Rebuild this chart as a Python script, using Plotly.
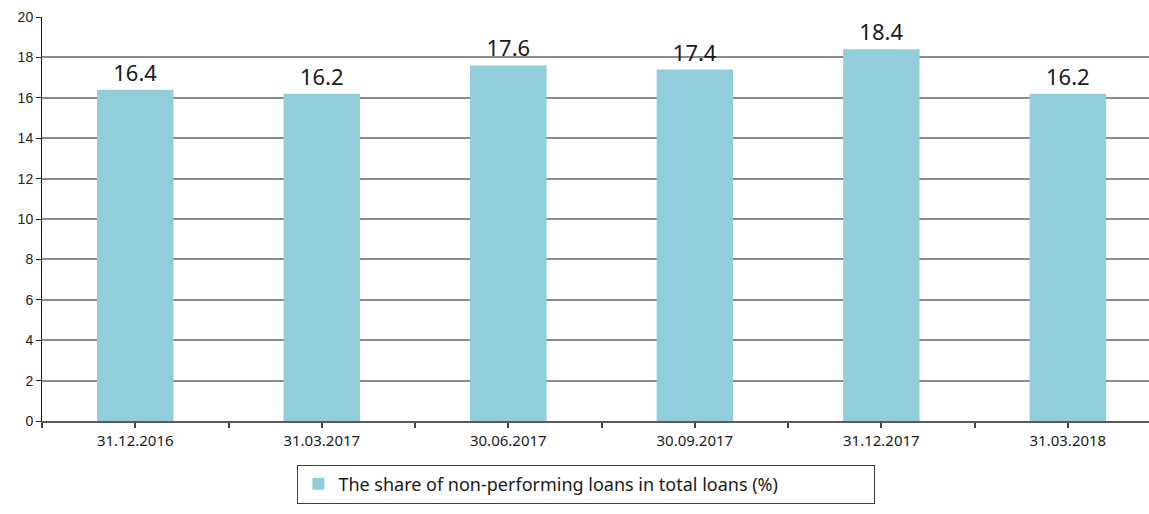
import plotly.graph_objects as go

categories = ["31.12.2016", "31.03.2017", "30.06.2017", "30.09.2017", "31.12.2017", "31.03.2018"]
npl_share = [16.4, 16.2, 17.6, 17.4, 18.4, 16.2]
y_ticks = [0, 2, 4, 6, 8, 10, 12, 14, 16, 18, 20]
series_name = "The share of non-performing loans in total loans (%)"

positions = list(range(len(categories)))
# ticks at category centres and at boundaries between categories
tick_vals = []
tick_text = []
for i, c in enumerate(categories):
    tick_vals += [i - 0.5, i]
    tick_text += ["", c]
tick_vals.append(len(categories) - 0.5)
tick_text.append("")

fig = go.Figure()
fig.add_trace(go.Bar(
    x=positions,
    y=npl_share,
    name=series_name,
    width=0.41,
    marker=dict(color="#92CDDC", line=dict(width=0)),
    text=[f"{v:.1f}" for v in npl_share],
    textposition="outside",
    textfont=dict(family="Noto Sans", size=22, color="#1a1a1a"),
    cliponaxis=False,
    showlegend=True,
))

fig.update_layout(
    width=1149, height=514,
    margin=dict(l=41.5, r=0, t=17, b=93),
    paper_bgcolor="white",
    plot_bgcolor="white",
    bargap=0.5,
    showlegend=True,
    legend=dict(
        x=0.2307, y=-0.108, xanchor="left", yanchor="top",
        orientation="h",
        entrywidth=531,
        bgcolor="white",
        bordercolor="#404040", borderwidth=1,
        font=dict(family="Noto Sans", size=18, color="#1a1a1a"),
    ),
    xaxis=dict(
        range=[-0.5, 5.435],
        tickmode="array",
        tickvals=tick_vals,
        ticktext=tick_text,
        ticks="outside",
        ticklen=5,
        tickwidth=1.5,
        tickcolor="#404040",
        showline=True,
        linecolor="#595959",
        linewidth=2,
        showgrid=False,
        zeroline=False,
        tickfont=dict(family="Noto Sans", size=15, color="#1a1a1a"),
    ),
    yaxis=dict(
        range=[0, 20],
        tickmode="array",
        tickvals=y_ticks,
        ticks="outside",
        ticklen=5,
        tickcolor="#222222",
        showline=True,
        linecolor="#111111",
        linewidth=1,
        showgrid=True,
        gridcolor="#8c8c8c",
        gridwidth=1.5,
        zeroline=False,
        tickfont=dict(family="Liberation Sans", size=14, color="#222222"),
    ),
)

fig.write_html(
    "out.html",
    config={"displayModeBar": False},
    post_script="document.body.style.margin='0';document.body.style.overflow='hidden';",
)
